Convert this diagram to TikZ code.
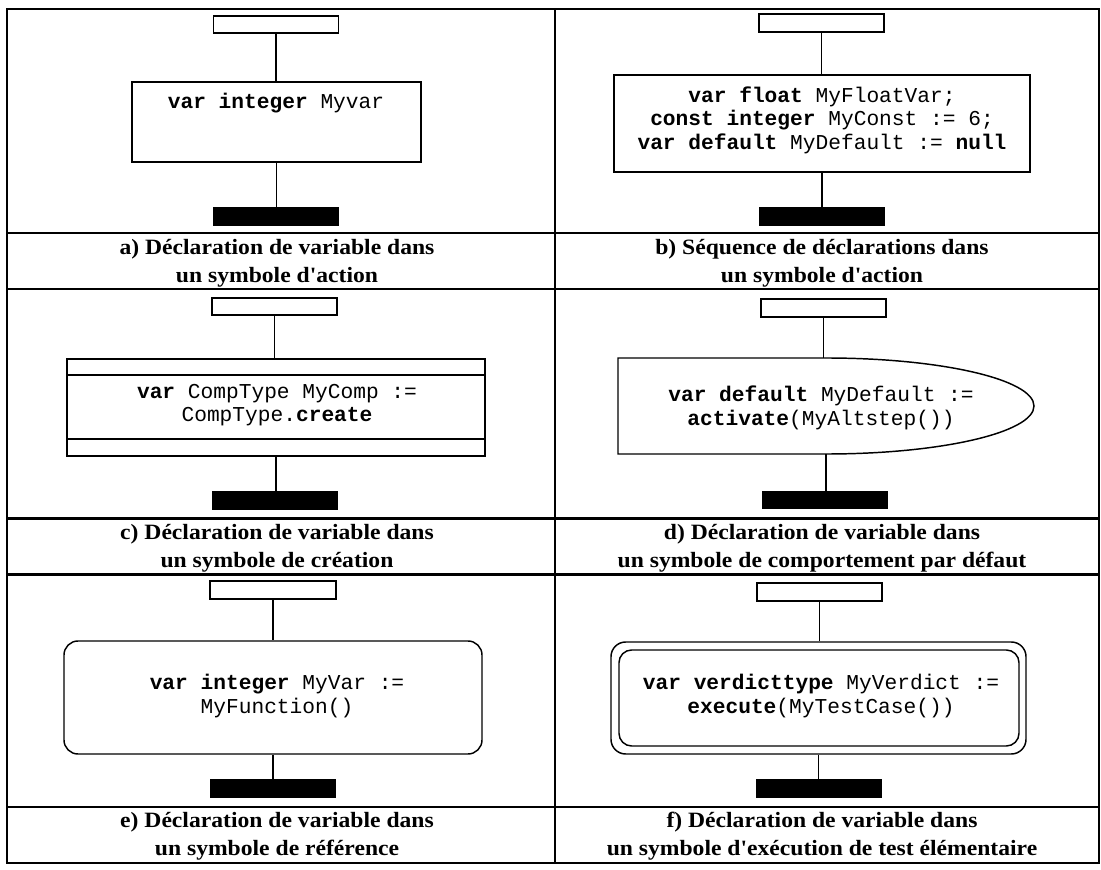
\documentclass[tikz,border=0pt]{standalone}
\usepackage{fontspec}
\setmainfont{Liberation Serif}
\newfontfamily\capfontfam[Ligatures=TeXOff,FakeStretch=1.08]{Liberation Serif}
\newfontfamily\codefontfam[Ligatures=TeXOff]{Liberation Mono}
\usetikzlibrary{fit}
\newcommand\capfnt{\capfontfam\bfseries\fontsize{16.4pt}{20.8pt}\selectfont}
\newcommand\codefnt{\codefontfam\fontsize{15.9pt}{17.6pt}\selectfont}
\newcommand\kw[1]{\textbf{#1}}
\tikzset{
  frame/.style={line width=1.7pt},
  sym/.style={draw, line width=1.1pt, inner sep=0pt},
  startbox/.style={sym, fill=white},
  bar/.style={fill=black, draw=none, inner sep=0pt},
  flow/.style={line width=1.1pt},
  code/.style={font=\codefnt, align=center, inner sep=0pt},
  captext/.style={font=\capfnt, align=center, inner sep=0pt},
}
\begin{document}
\begin{tikzpicture}[x=0.75pt,y=-0.75pt]
\useasboundingbox (0,0) rectangle (1101,870);
% table
\draw[frame] (7,9) rectangle (1099,863);
\draw[frame] (555,9) -- (555,863);
\foreach \yy in {233,289,518.5,574.5,807} \draw[frame] (7,\yy) -- (1099,\yy);

% panel a
\node[startbox, fit={(213.5,16) (338.5,33)}] (a1) {};
\node[sym, fit={(132,82) (421,162)}] (a2) {};
\node[code] (a3) at (276,103) {\kw{var integer} Myvar};
\node[bar, fit={(213,207) (339,226)}] (a4) {};
\draw[flow] (a1.south) -- (a1.south |- a2.north);
\draw[flow] (a2.south) -- (a2.south |- a4.north);
\node[captext] (capa) at (277,263.5) {a) Déclaration de variable dans\\un symbole d'action};

% panel b
\node[startbox, fit={(759,14) (884,32)}] (b1) {};
\node[sym, fit={(614,75) (1030,172)}] (b2) {};
\node[code] (b3) at (822,120) {\kw{var float} MyFloatVar;\\\kw{const integer} MyConst := 6;\\\kw{var default} MyDefault := \kw{null}};
\node[bar, fit={(759,207) (885,226)}] (b4) {};
\draw[flow] (b1.south) -- (b1.south |- b2.north);
\draw[flow] (b2.south) -- (b2.south |- b4.north);
\node[captext] (capb) at (822,263.5) {b) Séquence de déclarations dans\\un symbole d'action};

% panel c
\node[startbox, fit={(212,298) (337,315)}] (c1) {};
\node[sym, fit={(67,359) (485,456)}] (c2) {};
\draw[flow] (67,375) -- (485,375);
\draw[flow] (67,439) -- (485,439);
\node[code] (c3) at (277,405) {\kw{var} CompType MyComp :=\\CompType.\kw{create}};
\node[bar, fit={(212,491) (338,510)}] (c4) {};
\draw[flow] (c1.south) -- (c1.south |- c2.north);
\draw[flow] (c2.south) -- (c2.south |- c4.north);
\node[captext] (capc) at (277,548.5) {c) Déclaration de variable dans\\un symbole de création};

% panel d
\node[startbox, fit={(761,299) (886,317)}] (d1) {};
\coordinate (dtop) at (826,358);
\coordinate (dbot) at (826,454);
\draw[flow] (618,358) -- (dtop) .. controls (940.9,358) and (1034,379.5) .. (1034,406)
  .. controls (1034,432.5) and (940.9,454) .. (dbot) -- (618,454) -- cycle;
\node[code] (d3) at (821,408) {\kw{var default} MyDefault :=\\\kw{activate}(MyAltstep())};
\node[bar, fit={(762,491) (888,509)}] (d4) {};
\draw[flow] (d1.south) -- (d1.south |- dtop);
\draw[flow] (dbot) -- (dbot |- d4.north);
\node[captext] (capd) at (822,548.5) {d) Déclaration de variable dans\\un symbole de comportement par défaut};

% panel e
\node[startbox, fit={(210,581) (336,599)}] (e1) {};
\node[sym, rounded corners=10.5pt, fit={(64,641) (482,754)}] (e2) {};
\node[code] (e3) at (277,696) {\kw{var integer} MyVar :=\\MyFunction()};
\node[bar, fit={(210,779) (336,798)}] (e4) {};
\draw[flow] (e1.south) -- (e1.south |- e2.north);
\draw[flow] (e2.south) -- (e2.south |- e4.north);
\node[captext] (cape) at (277,836.5) {e) Déclaration de variable dans\\un symbole de référence};

% panel f
\node[startbox, fit={(757,583) (882,601)}] (f1) {};
\node[sym, rounded corners=11pt, fit={(611,642) (1026,754)}] (f2) {};
\node[sym, rounded corners=9.5pt, fit={(619,650) (1019,746)}] (f2i) {};
\node[code] (f3) at (821,696) {\kw{var verdicttype} MyVerdict :=\\\kw{execute}(MyTestCase())};
\node[bar, fit={(756,779) (882,798)}] (f4) {};
\draw[flow] (f1.south) -- (f1.south |- f2.north);
\draw[flow] (f2.south) -- (f2.south |- f4.north);
\node[captext] (capf) at (822,836.5) {f) Déclaration de variable dans\\un symbole d'exécution de test élémentaire};
\end{tikzpicture}
\end{document}
